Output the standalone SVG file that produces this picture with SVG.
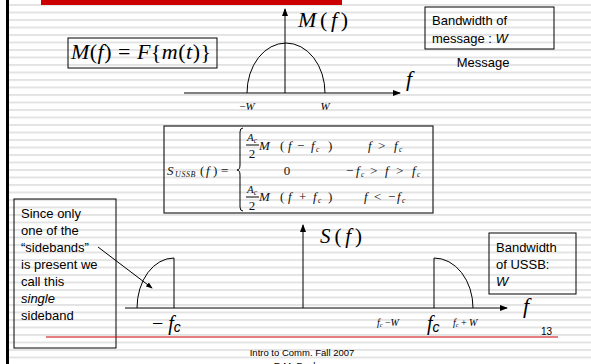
<svg xmlns="http://www.w3.org/2000/svg" width="591" height="364" viewBox="0 0 591 364">
<style>
.ln{stroke:#000;stroke-width:1;fill:none}
.box{stroke:#000;stroke-width:1;fill:none}
.sans{font-family:"Liberation Sans",Arial,sans-serif;fill:#000}
.ser{font-family:"Liberation Serif","Times New Roman",serif;fill:#000}
.it{font-style:italic}
.lbl{font-family:"Liberation Sans",Arial,sans-serif;font-size:13px;fill:#000}
.eq{font-family:"Liberation Serif","Times New Roman",serif;font-size:13px;fill:#111}
.sub{font-size:7.5px}
.tiny{font-size:8px;letter-spacing:0.6px}
.num{font-size:11px}
</style>
<defs>
<pattern id="stripes" x="0" y="4" width="10" height="7.5" patternUnits="userSpaceOnUse">
<rect x="0" y="0" width="10" height="2" fill="#e3e3e3"/>
</pattern>
<marker id="ah" viewBox="0 0 8 6" refX="7" refY="3" markerWidth="8" markerHeight="6" markerUnits="userSpaceOnUse" orient="auto">
<path d="M0,0 L8,3 L0,6 z" fill="#000"/>
</marker>
<marker id="ahs" viewBox="0 0 8 6" refX="7" refY="3" markerWidth="7" markerHeight="5" markerUnits="userSpaceOnUse" orient="auto">
<path d="M0,0 L8,3 L0,6 z" fill="#000"/>
</marker>
</defs>
<rect width="591" height="364" fill="#fff"/>
<rect x="9" y="0" width="582" height="364" fill="url(#stripes)"/>
<rect x="6" y="0" width="3" height="364" fill="#000"/>
<rect x="41" y="0" width="301" height="5" fill="#cc0000"/>

<g id="connectors">
<line class="ln" x1="285" y1="93" x2="285" y2="9" marker-end="url(#ah)"/>
<line class="ln" x1="184" y1="93" x2="400" y2="93" marker-end="url(#ah)"/>
<line class="ln" x1="303" y1="308" x2="303" y2="225" marker-end="url(#ah)"/>
<line class="ln" x1="125" y1="308" x2="507" y2="308" marker-end="url(#ah)"/>
<line class="ln" x1="98" y1="247" x2="152" y2="288" marker-end="url(#ahs)"/>
</g>

<g id="message-spectrum">
<path class="ln" d="M247 93 A39 50 0 0 1 325 93"/>
<text class="ser it" x="298" y="27" font-size="22" textLength="50">M<tspan font-style="normal">(</tspan>f<tspan font-style="normal">)</tspan></text>
<text class="ser it" x="247" y="110" font-size="11" text-anchor="middle"><tspan font-style="normal">−</tspan>W</text>
<text class="ser it" x="325" y="110" font-size="11" text-anchor="middle">W</text>
<text class="ser it" x="406" y="86" font-size="22">f</text>
</g>

<g id="fourier-box">
<rect class="box" x="68" y="38" width="149" height="30"/>
<text class="ser it" x="71" y="59" font-size="22" textLength="140">M<tspan font-style="normal">(</tspan>f<tspan font-style="normal">) = </tspan>F<tspan font-style="normal">{</tspan>m<tspan font-style="normal">(</tspan>t<tspan font-style="normal">)}</tspan></text>
</g>

<g id="bw-message">
<rect class="box" x="425" y="7" width="129" height="42"/>
<text class="lbl" x="432" y="25">Bandwidth of</text>
<text class="lbl" x="432" y="43">message :  <tspan font-style="italic">W</tspan></text>
</g>
<text class="lbl" x="483" y="67" text-anchor="middle">Message</text>

<g id="equation">
<rect x="164" y="126" width="269" height="87" fill="none" stroke="#222" stroke-width="1.2"/>
<text class="eq it" x="167" y="175">S</text>
<text class="eq it tiny" x="175" y="177">USSB</text>
<text class="eq" x="200" y="175">(</text>
<text class="eq it" x="206" y="175">f</text>
<text class="eq" x="213" y="175">)</text>
<text class="eq" x="221" y="175">=</text>
<path class="ln" d="M243 128 Q240 128 240 132 L240 165 Q240 170 237 170 Q240 170 240 175 L240 207 Q240 211 243 211"/>
<!-- row 1 -->
<text class="eq it num" x="247" y="141">A<tspan class="sub" dy="2">c</tspan></text>
<line class="ln" x1="246" y1="145" x2="259" y2="145" stroke-width="0.8"/>
<text class="eq" x="252" y="158" text-anchor="middle">2</text>
<text class="eq it" x="259" y="150">M</text>
<text class="eq" x="280" y="150">(</text>
<text class="eq it" x="288" y="150">f</text>
<text class="eq" x="297" y="150">−</text>
<text class="eq it" x="311" y="150">f</text>
<text class="eq it sub" x="316" y="152">c</text>
<text class="eq" x="328" y="150">)</text>
<text class="eq it" x="368" y="150">f</text>
<text class="eq" x="378" y="150">&gt;</text>
<text class="eq it" x="394" y="150">f</text>
<text class="eq it sub" x="399" y="152">c</text>
<!-- row 2 -->
<text class="eq" x="287" y="175" text-anchor="middle">0</text>
<text class="eq" x="346" y="175">−</text>
<text class="eq it" x="356" y="175">f</text>
<text class="eq it sub" x="361" y="177">c</text>
<text class="eq" x="370" y="175">&gt;</text>
<text class="eq it" x="385" y="175">f</text>
<text class="eq" x="396" y="175">&gt;</text>
<text class="eq it" x="412" y="175">f</text>
<text class="eq it sub" x="417" y="177">c</text>
<!-- row 3 -->
<text class="eq it num" x="247" y="193">A<tspan class="sub" dy="2">c</tspan></text>
<line class="ln" x1="246" y1="197" x2="259" y2="197" stroke-width="0.8"/>
<text class="eq" x="252" y="210" text-anchor="middle">2</text>
<text class="eq it" x="259" y="201">M</text>
<text class="eq" x="280" y="201">(</text>
<text class="eq it" x="288" y="201">f</text>
<text class="eq" x="299" y="201">+</text>
<text class="eq it" x="313" y="201">f</text>
<text class="eq it sub" x="318" y="203">c</text>
<text class="eq" x="328" y="201">)</text>
<text class="eq it" x="364" y="201">f</text>
<text class="eq" x="374" y="201">&lt;</text>
<text class="eq" x="388" y="201">−</text>
<text class="eq it" x="397" y="201">f</text>
<text class="eq it sub" x="402" y="203">c</text>
</g>

<g id="ussb-spectrum">
<text class="ser it" x="320" y="243" font-size="21" textLength="42">S<tspan font-style="normal">(</tspan>f<tspan font-style="normal">)</tspan></text>
<path class="ln" d="M174 308 L174 258 A37 50 0 0 0 137 308"/>
<path class="ln" d="M434 308 L434 258 A39 50 0 0 1 473 308"/>
<text class="ser" x="152" y="330" font-size="20">− <tspan font-style="italic">f</tspan><tspan font-family="'Liberation Sans',sans-serif" font-style="italic" font-size="14" dy="2">c</tspan></text>
<text class="ser" x="377" y="326" font-size="10"><tspan font-style="italic">f</tspan><tspan font-style="italic" font-size="6" dy="1">c</tspan><tspan dy="-1"> −</tspan><tspan font-style="italic">W</tspan></text>
<text class="ser it" x="427" y="330" font-size="20">f<tspan font-family="'Liberation Sans',sans-serif" font-size="14" dy="2">c</tspan></text>
<text class="ser" x="453" y="326" font-size="10"><tspan font-style="italic">f</tspan><tspan font-style="italic" font-size="6" dy="1">c</tspan><tspan dy="-1">  + </tspan><tspan font-style="italic">W</tspan></text>
<text class="ser it" x="523" y="313" font-size="22">f</text>
</g>

<g id="bw-ussb">
<rect class="box" x="489" y="233" width="87" height="61"/>
<text class="lbl" x="496" y="252">Bandwidth</text>
<text class="lbl" x="496" y="269">of USSB:</text>
<text class="lbl" x="496" y="286" font-style="italic">W</text>
</g>

<g id="note-box">
<rect class="box" x="14" y="199" width="102" height="149"/>
<text class="lbl" x="21" y="218">Since only</text>
<text class="lbl" x="21" y="235">one of the</text>
<text class="lbl" x="21" y="252">“sidebands”</text>
<text class="lbl" x="21" y="269">is present we</text>
<text class="lbl" x="21" y="286">call this</text>
<text class="lbl" x="21" y="303" font-style="italic">single</text>
<text class="lbl" x="21" y="320">sideband</text>
</g>

<line x1="46" y1="337" x2="558" y2="337" stroke="#cc0000" stroke-width="1"/>
<text class="sans" x="552" y="335" font-size="10" text-anchor="end">13</text>
<text class="sans" x="302" y="356" font-size="9.5" text-anchor="middle">Intro to Comm. Fall 2007</text>
<text class="sans" x="302" y="369" font-size="9.5" text-anchor="middle">R.M. Buehrer</text>
</svg>
